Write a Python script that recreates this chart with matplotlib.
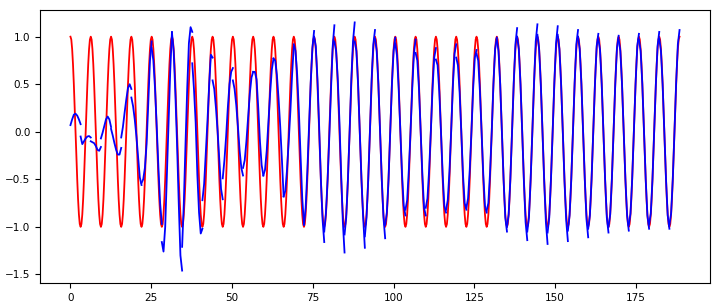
import numpy as np
import matplotlib
matplotlib.use("Agg")
import matplotlib.pyplot as plt

# sample spacing along the x axis
red_step = 0.2618
blue_step = 0.5236
window = 6  # blue samples per predicted window (window + 1 points incl. ends)

# true signal (red), one value per sample
red_values = [
    1.0, 0.97, 0.87, 0.71, 0.5, 0.26, 0.0, -0.26, -0.5, -0.71, -0.87, -0.97, -1.0, -0.97, -0.87, -0.71, -0.5, -0.26, 0.0, 0.26, 0.5, 0.71, 0.87, 0.97,
    1.0, 0.97, 0.87, 0.71, 0.5, 0.26, 0.0, -0.26, -0.5, -0.71, -0.87, -0.97, -1.0, -0.97, -0.87, -0.71, -0.5, -0.26, 0.0, 0.26, 0.5, 0.71, 0.87, 0.97,
    1.0, 0.97, 0.87, 0.71, 0.5, 0.26, 0.0, -0.26, -0.5, -0.71, -0.87, -0.97, -1.0, -0.97, -0.87, -0.71, -0.5, -0.26, 0.0, 0.26, 0.5, 0.71, 0.87, 0.97,
    1.0, 0.97, 0.87, 0.71, 0.5, 0.26, 0.0, -0.26, -0.5, -0.71, -0.87, -0.97, -1.0, -0.97, -0.87, -0.71, -0.5, -0.26, 0.0, 0.26, 0.5, 0.71, 0.87, 0.97,
    1.0, 0.97, 0.87, 0.71, 0.5, 0.26, 0.0, -0.26, -0.5, -0.71, -0.87, -0.97, -1.0, -0.97, -0.87, -0.71, -0.5, -0.26, 0.0, 0.26, 0.5, 0.71, 0.87, 0.97,
    1.0, 0.97, 0.87, 0.71, 0.5, 0.26, 0.0, -0.26, -0.5, -0.71, -0.87, -0.97, -1.0, -0.97, -0.87, -0.71, -0.5, -0.26, 0.0, 0.26, 0.5, 0.71, 0.87, 0.97,
    1.0, 0.97, 0.87, 0.71, 0.5, 0.26, 0.0, -0.26, -0.5, -0.71, -0.87, -0.97, -1.0, -0.97, -0.87, -0.71, -0.5, -0.26, 0.0, 0.26, 0.5, 0.71, 0.87, 0.97,
    1.0, 0.97, 0.87, 0.71, 0.5, 0.26, 0.0, -0.26, -0.5, -0.71, -0.87, -0.97, -1.0, -0.97, -0.87, -0.71, -0.5, -0.26, 0.0, 0.26, 0.5, 0.71, 0.87, 0.97,
    1.0, 0.97, 0.87, 0.71, 0.5, 0.26, 0.0, -0.26, -0.5, -0.71, -0.87, -0.97, -1.0, -0.97, -0.87, -0.71, -0.5, -0.26, 0.0, 0.26, 0.5, 0.71, 0.87, 0.97,
    1.0, 0.97, 0.87, 0.71, 0.5, 0.26, 0.0, -0.26, -0.5, -0.71, -0.87, -0.97, -1.0, -0.97, -0.87, -0.71, -0.5, -0.26, 0.0, 0.26, 0.5, 0.71, 0.87, 0.97,
    1.0, 0.97, 0.87, 0.71, 0.5, 0.26, 0.0, -0.26, -0.5, -0.71, -0.87, -0.97, -1.0, -0.97, -0.87, -0.71, -0.5, -0.26, 0.0, 0.26, 0.5, 0.71, 0.87, 0.97,
    1.0, 0.97, 0.87, 0.71, 0.5, 0.26, 0.0, -0.26, -0.5, -0.71, -0.87, -0.97, -1.0, -0.97, -0.87, -0.71, -0.5, -0.26, 0.0, 0.26, 0.5, 0.71, 0.87, 0.97,
    1.0, 0.97, 0.87, 0.71, 0.5, 0.26, 0.0, -0.26, -0.5, -0.71, -0.87, -0.97, -1.0, -0.97, -0.87, -0.71, -0.5, -0.26, 0.0, 0.26, 0.5, 0.71, 0.87, 0.97,
    1.0, 0.97, 0.87, 0.71, 0.5, 0.26, 0.0, -0.26, -0.5, -0.71, -0.87, -0.97, -1.0, -0.97, -0.87, -0.71, -0.5, -0.26, 0.0, 0.26, 0.5, 0.71, 0.87, 0.97,
    1.0, 0.97, 0.87, 0.71, 0.5, 0.26, 0.0, -0.26, -0.5, -0.71, -0.87, -0.97, -1.0, -0.97, -0.87, -0.71, -0.5, -0.26, 0.0, 0.26, 0.5, 0.71, 0.87, 0.97,
    1.0, 0.97, 0.87, 0.71, 0.5, 0.26, 0.0, -0.26, -0.5, -0.71, -0.87, -0.97, -1.0, -0.97, -0.87, -0.71, -0.5, -0.26, 0.0, 0.26, 0.5, 0.71, 0.87, 0.97,
    1.0, 0.97, 0.87, 0.71, 0.5, 0.26, 0.0, -0.26, -0.5, -0.71, -0.87, -0.97, -1.0, -0.97, -0.87, -0.71, -0.5, -0.26, 0.0, 0.26, 0.5, 0.71, 0.87, 0.97,
    1.0, 0.97, 0.87, 0.71, 0.5, 0.26, 0.0, -0.26, -0.5, -0.71, -0.87, -0.97, -1.0, -0.97, -0.87, -0.71, -0.5, -0.26, 0.0, 0.26, 0.5, 0.71, 0.87, 0.97,
    1.0, 0.97, 0.87, 0.71, 0.5, 0.26, 0.0, -0.26, -0.5, -0.71, -0.87, -0.97, -1.0, -0.97, -0.87, -0.71, -0.5, -0.26, 0.0, 0.26, 0.5, 0.71, 0.87, 0.97,
    1.0, 0.97, 0.87, 0.71, 0.5, 0.26, 0.0, -0.26, -0.5, -0.71, -0.87, -0.97, -1.0, -0.97, -0.87, -0.71, -0.5, -0.26, 0.0, 0.26, 0.5, 0.71, 0.87, 0.97,
    1.0, 0.97, 0.87, 0.71, 0.5, 0.26, 0.0, -0.26, -0.5, -0.71, -0.87, -0.97, -1.0, -0.97, -0.87, -0.71, -0.5, -0.26, 0.0, 0.26, 0.5, 0.71, 0.87, 0.97,
    1.0, 0.97, 0.87, 0.71, 0.5, 0.26, 0.0, -0.26, -0.5, -0.71, -0.87, -0.97, -1.0, -0.97, -0.87, -0.71, -0.5, -0.26, 0.0, 0.26, 0.5, 0.71, 0.87, 0.97,
    1.0, 0.97, 0.87, 0.71, 0.5, 0.26, 0.0, -0.26, -0.5, -0.71, -0.87, -0.97, -1.0, -0.97, -0.87, -0.71, -0.5, -0.26, 0.0, 0.26, 0.5, 0.71, 0.87, 0.97,
    1.0, 0.97, 0.87, 0.71, 0.5, 0.26, 0.0, -0.26, -0.5, -0.71, -0.87, -0.97, -1.0, -0.97, -0.87, -0.71, -0.5, -0.26, 0.0, 0.26, 0.5, 0.71, 0.87, 0.97,
    1.0, 0.97, 0.87, 0.71, 0.5, 0.26, 0.0, -0.26, -0.5, -0.71, -0.87, -0.97, -1.0, -0.97, -0.87, -0.71, -0.5, -0.26, 0.0, 0.26, 0.5, 0.71, 0.87, 0.97,
    1.0, 0.97, 0.87, 0.71, 0.5, 0.26, 0.0, -0.26, -0.5, -0.71, -0.87, -0.97, -1.0, -0.97, -0.87, -0.71, -0.5, -0.26, 0.0, 0.26, 0.5, 0.71, 0.87, 0.97,
    1.0, 0.97, 0.87, 0.71, 0.5, 0.26, 0.0, -0.26, -0.5, -0.71, -0.87, -0.97, -1.0, -0.97, -0.87, -0.71, -0.5, -0.26, 0.0, 0.26, 0.5, 0.71, 0.87, 0.97,
    1.0, 0.97, 0.87, 0.71, 0.5, 0.26, 0.0, -0.26, -0.5, -0.71, -0.87, -0.97, -1.0, -0.97, -0.87, -0.71, -0.5, -0.26, 0.0, 0.26, 0.5, 0.71, 0.87, 0.97,
    1.0, 0.97, 0.87, 0.71, 0.5, 0.26, 0.0, -0.26, -0.5, -0.71, -0.87, -0.97, -1.0, -0.97, -0.87, -0.71, -0.5, -0.26, 0.0, 0.26, 0.5, 0.71, 0.87, 0.97,
    1.0, 0.97, 0.87, 0.71, 0.5, 0.26, 0.0, -0.26, -0.5, -0.71, -0.87, -0.97, -1.0, -0.97, -0.87, -0.71, -0.5, -0.26, 0.0, 0.26, 0.5, 0.71, 0.87, 0.97,
    1.0,
]

# predicted windows (blue), each window covers window + 1 samples
blue_segments = [
    [0.07, 0.13, 0.18, 0.19, 0.17, 0.13, 0.08],
    [-0.05, -0.13, -0.10, -0.07, -0.05, -0.045, -0.06],
    [-0.10, -0.11, -0.12, -0.15, -0.19, -0.20, -0.16],
    [-0.07, -0.01, 0.06, 0.13, 0.16, 0.13, 0.05],
    [0.03, -0.04, -0.12, -0.19, -0.24, -0.24, -0.17],
    [-0.06, 0.05, 0.20, 0.34, 0.46, 0.50, 0.45],
    [0.36, 0.27, 0.13, -0.05, -0.27, -0.48, -0.56],
    [-0.54, -0.50, -0.38, -0.13, 0.30, 0.75, 0.95],
    [0.88, 0.75, 0.45, 0.05, -0.38, -0.75, -0.97],
    [-1.16, -1.26, -1.00, -0.45, 0.10, 0.65, 1.05],
    [1.04, 0.85, 0.40, -0.13, -0.75, -1.30, -1.46],
    [-1.21, -0.75, -0.13, 0.45, 0.93, 1.10, 1.05],
    [0.72, 0.45, 0.10, -0.45, -0.85, -1.07, -1.02],
    [-0.72, -0.55, -0.22, 0.12, 0.50, 0.81, 0.78],
    [0.54, 0.45, 0.25, 0.00, -0.30, -0.60, -0.71],
    [-0.49, -0.30, -0.05, 0.25, 0.50, 0.63, 0.67],
    [0.54, 0.45, 0.28, 0.05, -0.20, -0.38, -0.46],
    [-0.38, -0.30, -0.10, 0.15, 0.40, 0.57, 0.63],
    [0.63, 0.63, 0.55, 0.25, -0.10, -0.35, -0.46],
    [-0.46, -0.40, -0.20, 0.10, 0.40, 0.65, 0.77],
    [0.77, 0.75, 0.60, 0.35, 0.05, -0.30, -0.68],
    [-0.68, -0.62, -0.40, -0.10, 0.22, 0.60, 0.90],
    [0.92, 0.85, 0.60, 0.22, -0.25, -0.70, -0.97],
    [-0.98, -0.80, -0.42, 0.05, 0.52, 0.88, 1.06],
    [1.00, 0.90, 0.55, 0.05, -0.50, -0.92, -1.16],
    [-1.05, -0.85, -0.50, -0.05, 0.45, 0.90, 1.12],
    [0.95, 0.85, 0.55, 0.10, -0.45, -0.95, -1.27],
    [-1.08, -0.90, -0.50, 0.00, 0.55, 0.95, 1.15],
    [0.95, 0.85, 0.50, 0.00, -0.50, -0.90, -1.22],
    [-1.10, -0.90, -0.50, 0.00, 0.55, 0.92, 1.07],
    [0.98, 0.85, 0.50, 0.00, -0.50, -0.90, -1.12],
    [-0.98, -0.85, -0.50, 0.00, 0.50, 0.85, 0.99],
    [0.93, 0.80, 0.45, 0.00, -0.45, -0.78, -0.88],
    [-0.82, -0.72, -0.40, 0.00, 0.45, 0.82, 0.97],
    [0.83, 0.75, 0.45, 0.00, -0.45, -0.80, -0.88],
    [-0.80, -0.70, -0.40, 0.00, 0.45, 0.78, 0.88],
    [0.76, 0.70, 0.42, 0.00, -0.45, -0.78, -0.85],
    [-0.82, -0.72, -0.42, 0.00, 0.47, 0.82, 0.92],
    [0.78, 0.70, 0.42, 0.00, -0.45, -0.75, -0.82],
    [-0.80, -0.70, -0.40, 0.00, 0.45, 0.78, 0.86],
    [0.82, 0.75, 0.43, 0.00, -0.45, -0.78, -0.85],
    [-0.83, -0.75, -0.43, 0.00, 0.50, 0.87, 0.99],
    [0.97, 0.85, 0.50, 0.00, -0.50, -0.90, -1.05],
    [-1.00, -0.87, -0.50, 0.00, 0.52, 0.92, 1.09],
    [1.00, 0.87, 0.50, 0.00, -0.52, -0.95, -1.14],
    [-1.05, -0.90, -0.50, 0.00, 0.52, 0.95, 1.13],
    [1.02, 0.87, 0.50, 0.00, -0.52, -0.95, -1.18],
    [-1.06, -0.90, -0.50, 0.00, 0.52, 0.93, 1.11],
    [1.02, 0.87, 0.50, 0.00, -0.52, -0.93, -1.15],
    [-1.04, -0.88, -0.50, 0.00, 0.52, 0.92, 1.07],
    [1.00, 0.87, 0.50, 0.00, -0.50, -0.92, -1.11],
    [-1.02, -0.88, -0.50, 0.00, 0.50, 0.90, 1.03],
    [0.98, 0.86, 0.50, 0.00, -0.50, -0.90, -1.06],
    [-1.00, -0.87, -0.50, 0.00, 0.50, 0.88, 1.01],
    [0.97, 0.85, 0.50, 0.00, -0.50, -0.88, -1.04],
    [-0.98, -0.86, -0.50, 0.00, 0.50, 0.90, 1.03],
    [0.97, 0.85, 0.50, 0.00, -0.50, -0.88, -1.02],
    [-0.97, -0.86, -0.50, 0.00, 0.50, 0.90, 1.05],
    [0.98, 0.85, 0.50, 0.00, -0.50, -0.88, -1.02],
    [-0.98, -0.86, -0.50, 0.00, 0.52, 0.92, 1.07],
]

x_red = np.arange(len(red_values)) * red_step
x_blue = np.arange(window * len(blue_segments) + 1) * blue_step

fig = plt.figure(figsize=(7.18, 3.06), dpi=100)
ax = fig.add_axes([40 / 718, 23 / 306, 670 / 718, 273 / 306])

ax.plot(x_red, red_values, color="red", linewidth=1.3)
for k, seg in enumerate(blue_segments):
    start = k * window
    ax.plot(x_blue[start:start + len(seg)], seg, color="blue", linewidth=1.3)

ax.tick_params(labelsize=7.5)
fig.savefig("out.png", dpi=100)
